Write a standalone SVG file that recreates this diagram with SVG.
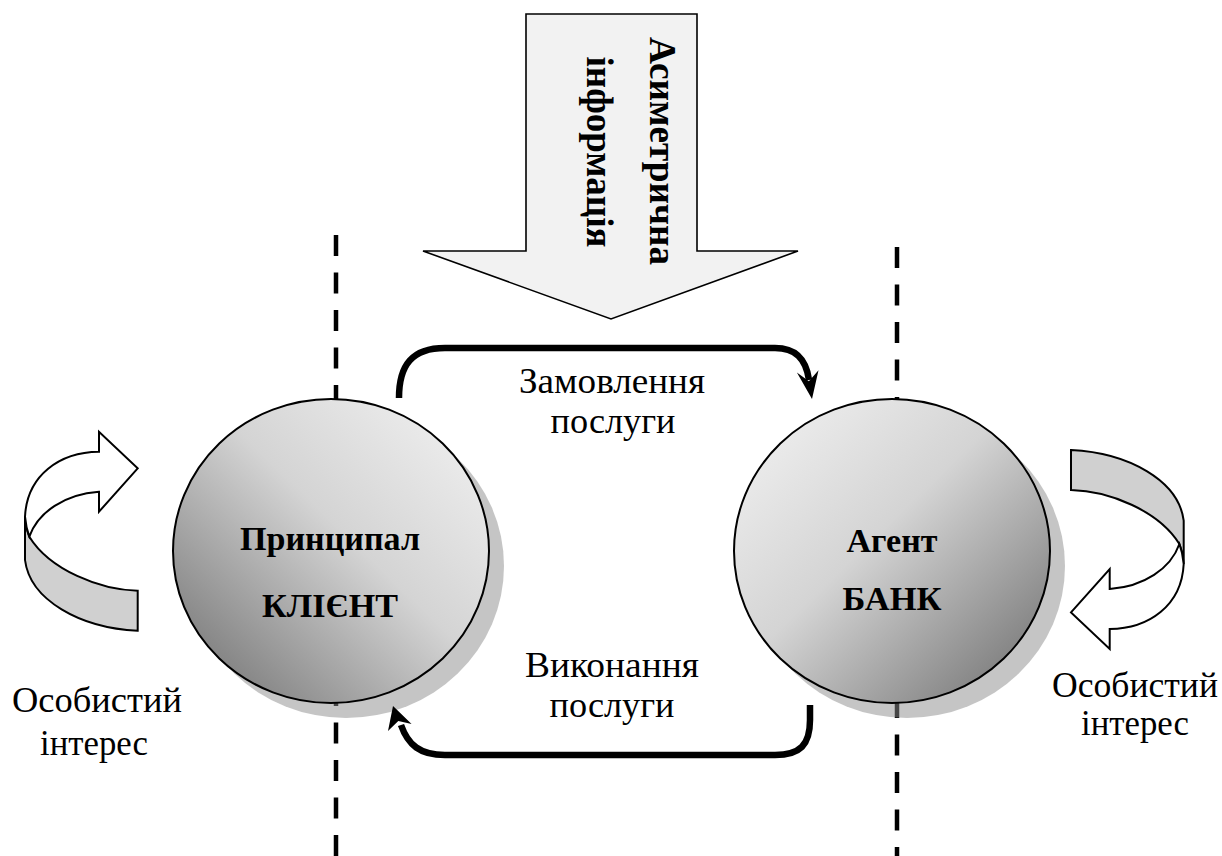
<svg xmlns="http://www.w3.org/2000/svg" width="1222" height="856" viewBox="0 0 1222 856">
<style>
.reg{font-family:"Liberation Serif","DejaVu Serif",serif;font-size:36px;fill:#000;text-anchor:middle}
.bold{font-family:"Liberation Serif","DejaVu Serif",serif;font-size:34px;font-weight:bold;fill:#000;text-anchor:middle}
.big{font-family:"Liberation Serif","DejaVu Serif",serif;font-size:37px;font-weight:bold;fill:#000;text-anchor:middle}
.dash{stroke:#000;stroke-width:4.5;stroke-dasharray:21 16.5;fill:none}
.shadow{fill:#8c8c8c;fill-opacity:0.5}
.circ{stroke:#000;stroke-width:2}
.conn{fill:none;stroke:#000;stroke-width:6.5}
.ol{stroke:#000;stroke-width:2;stroke-linejoin:miter}
</style>
<defs>
<linearGradient id="gL" x1="1" y1="0" x2="0" y2="1">
<stop offset="0" stop-color="#f4f4f4"/>
<stop offset="0.45" stop-color="#d4d4d4"/>
<stop offset="1" stop-color="#6a6a6a"/>
</linearGradient>
<linearGradient id="gR" x1="0" y1="0" x2="1" y2="1">
<stop offset="0" stop-color="#f4f4f4"/>
<stop offset="0.45" stop-color="#d4d4d4"/>
<stop offset="1" stop-color="#6a6a6a"/>
</linearGradient>
<g id="curl">
<path class="ol" fill="#d0d0d0" d="M29.3 536.7 C50 570 100 590 137.7 590.7 L137.7 630.7 C80 628 30 600 25 560 L25 516.7 Q26 528 29.3 536.7 Z"/>
<path class="ol" fill="#ffffff" d="M25 516.7 C27 475 60 452 99 451.7 L99 431.7 L137.7 468.3 L99 511.7 L99 491.7 C65 494 38 512 29.3 536.7 Q26 528 25 516.7 Z"/>
</g>
</defs>

<g id="dashed-lines">
<line class="dash" x1="336" y1="235" x2="336" y2="856"/>
<line class="dash" x1="897" y1="247" x2="897" y2="856"/>
</g>

<g id="info-arrow">
<polygon points="526,14 697,14 697,251 798,251 611,319 423,251 526,251" fill="#f2f2f2" stroke="#000" stroke-width="1.6"/>
<text class="big" transform="translate(650,151) rotate(90)" textLength="228" lengthAdjust="spacingAndGlyphs">Асиметрична</text>
<text class="big" transform="translate(587,152) rotate(90)" textLength="191" lengthAdjust="spacingAndGlyphs">інформація</text>
</g>

<g id="principal">
<ellipse class="shadow" cx="346" cy="566" rx="158" ry="152"/>
<ellipse class="circ" cx="331" cy="551" rx="158" ry="152" fill="url(#gL)"/>
<text class="bold" x="330" y="550" textLength="180" lengthAdjust="spacingAndGlyphs">Принципал</text>
<text class="bold" x="330" y="617" textLength="136" lengthAdjust="spacingAndGlyphs">КЛІЄНТ</text>
</g>

<g id="agent">
<ellipse class="shadow" cx="907" cy="566" rx="158" ry="152"/>
<ellipse class="circ" cx="892" cy="551" rx="158" ry="152" fill="url(#gR)"/>
<text class="bold" x="892" y="552" textLength="91" lengthAdjust="spacingAndGlyphs">Агент</text>
<text class="bold" x="892" y="610" textLength="99" lengthAdjust="spacingAndGlyphs">БАНК</text>
</g>

<g id="self-interest-left">
<use href="#curl"/>
<text class="reg" x="97" y="712" textLength="170" lengthAdjust="spacingAndGlyphs">Особистий</text>
<text class="reg" x="94" y="755" textLength="108" lengthAdjust="spacingAndGlyphs">інтерес</text>
</g>

<g id="self-interest-right">
<use href="#curl" transform="translate(1208.7,1080.7) rotate(180)"/>
<text class="reg" x="1135" y="697" textLength="166" lengthAdjust="spacingAndGlyphs">Особистий</text>
<text class="reg" x="1135" y="735" textLength="108" lengthAdjust="spacingAndGlyphs">інтерес</text>
</g>

<g id="connectors">
<path class="conn" d="M399 398 C399 365 412 348 445 348 L775 348 C795 348 806 358 809 380"/>
<polygon points="812,399 796.9,372.6 808.9,381.3 818.5,370.2" fill="#000"/>
<text class="reg" x="612" y="393" textLength="186" lengthAdjust="spacingAndGlyphs">Замовлення</text>
<text class="reg" x="613" y="433" textLength="125" lengthAdjust="spacingAndGlyphs">послуги</text>
<path class="conn" d="M810 705 L810 720 C810 745 800 755 775 755 L445 755 C420 755 408 745 401 725"/>
<polygon points="393,706 388,731 398.3,721 411.6,724" fill="#000"/>
<text class="reg" x="612" y="677" textLength="174" lengthAdjust="spacingAndGlyphs">Виконання</text>
<text class="reg" x="612" y="717" textLength="125" lengthAdjust="spacingAndGlyphs">послуги</text>
</g>
</svg>
